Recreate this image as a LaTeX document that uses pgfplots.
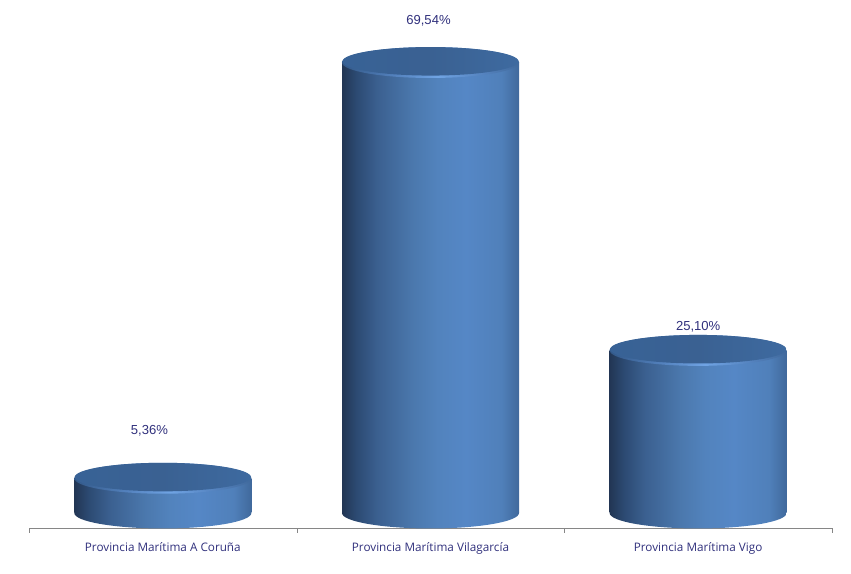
\documentclass[border=0pt]{standalone}
\usepackage{fontspec}
\setmainfont{Liberation Sans}
\newfontfamily\catfont{Open Sans}
\usepackage{pgfplots}
\pgfplotsset{compat=1.18}
\usepackage{pgfplotstable}

\definecolor{txtblue}{HTML}{30307C}
\definecolor{axisgray}{HTML}{868686}
\definecolor{ba}{HTML}{223654}
\definecolor{bb}{HTML}{2C4A72}
\definecolor{bc}{HTML}{3B6090}
\definecolor{bd}{HTML}{4B78AD}
\definecolor{be}{HTML}{5283BD}
\definecolor{bf}{HTML}{5587C6}
\definecolor{bh}{HTML}{5080BA}
\definecolor{bg}{HTML}{40699C}
\definecolor{ra}{RGB}{50,88,136}
\definecolor{rb}{RGB}{84,130,190}
\definecolor{rc}{RGB}{112,164,228}
\definecolor{ta}{RGB}{56,98,150}
\definecolor{tb}{RGB}{58,97,146}
\definecolor{tc}{RGB}{62,106,160}

% left to right across the cylinder, the visible part is 25bp..75bp
\pgfdeclarehorizontalshading{cylbody}{100bp}{
  color(0bp)=(ba); color(25bp)=(ba); color(29bp)=(bb); color(35bp)=(bc);
  color(45bp)=(bd); color(52bp)=(be); color(60bp)=(bf); color(70bp)=(bh);
  color(75bp)=(bg); color(100bp)=(bg)}
\pgfdeclarehorizontalshading{cylrim}{100bp}{
  color(0bp)=(ra); color(25bp)=(ra); color(40bp)=(rb); color(52bp)=(rc);
  color(65bp)=(rb); color(75bp)=(bg); color(100bp)=(bg)}
\pgfdeclarehorizontalshading{cyltop}{100bp}{
  color(0bp)=(ta); color(25bp)=(ta); color(50bp)=(tb); color(75bp)=(tc);
  color(100bp)=(tc)}

\pgfdeclareplotmark{cylbase}{%
  \pgfpathellipse{\pgfpointorigin}{\pgfpoint{66.4pt}{0pt}}{\pgfpoint{0pt}{11.6pt}}%
  \pgfshadepath{cylbody}{0}\pgfusepath{discard}}
\pgfdeclareplotmark{cyllid}{%
  \pgfpathellipse{\pgfpointorigin}{\pgfpoint{66.4pt}{0pt}}{\pgfpoint{0pt}{11.6pt}}%
  \pgfshadepath{cylrim}{0}\pgfusepath{discard}%
  \pgfpathellipse{\pgfpoint{0pt}{0.9pt}}{\pgfpoint{66.0pt}{0pt}}{\pgfpoint{0pt}{10.7pt}}%
  \pgfshadepath{cyltop}{0}\pgfusepath{discard}}

\pgfplotstableread{
x    val
0.5  5.36
1.5  69.54
2.5  25.10
}\cyldata

\pgfplotsset{cyl/.style={ybar, bar width=132.75pt, bar shift=0pt, draw=none, shade, shading=cylbody}}

\begin{document}
\begin{tikzpicture}
\useasboundingbox (-21.75pt,-34.5pt) rectangle (616.5pt,396pt);
\begin{axis}[
    at={(0,0)},
    anchor=south west,
    scale only axis,
    width=602.25pt,
    height=396pt,
    xmin=0, xmax=3,
    ymin=-2.3155, ymax=79.19,
    clip=false,
    axis x line=bottom,
    axis y line=none,
    axis line style={draw=axisgray,-},
    xtick={0,1,2,3},
    x tick label as interval,
    xticklabels={Provincia Marítima A Coruña,Provincia Marítima Vilagarcía,Provincia Marítima Vigo},
    xticklabel style={font=\catfont\fontsize{8.8pt}{10pt}\selectfont,text=txtblue,yshift=-3.8pt},
    major tick length=3.75pt,
    tick style={draw=axisgray},
    tick align=outside,
]
% bottom ellipses, then the bodies (one plot each, or the shading spans all three), then the lids
\addplot[only marks, mark=cylbase] table[x=x, y expr=0*\thisrow{val}] {\cyldata};
\addplot[cyl, skip coords between index={1}{3}] table[x=x, y=val] {\cyldata};
\addplot[cyl, skip coords between index={0}{1}, skip coords between index={2}{3}] table[x=x, y=val] {\cyldata};
\addplot[cyl, skip coords between index={0}{2}] table[x=x, y=val] {\cyldata};
\addplot[only marks, mark=cyllid] table[x=x, y=val] {\cyldata};
\addplot[only marks, mark=none, nodes near coords, point meta=explicit symbolic,
    every node near coord/.style={anchor=center, font=\fontsize{9.8pt}{12pt}\selectfont, text=txtblue}]
    table[x=x, y=laby, meta=lab] {
x      laby   lab
0.45   12.72  5,36\%
1.4925 76.05  69,54\%
2.5    28.72  25,10\%
};
\end{axis}
\end{tikzpicture}
\end{document}
